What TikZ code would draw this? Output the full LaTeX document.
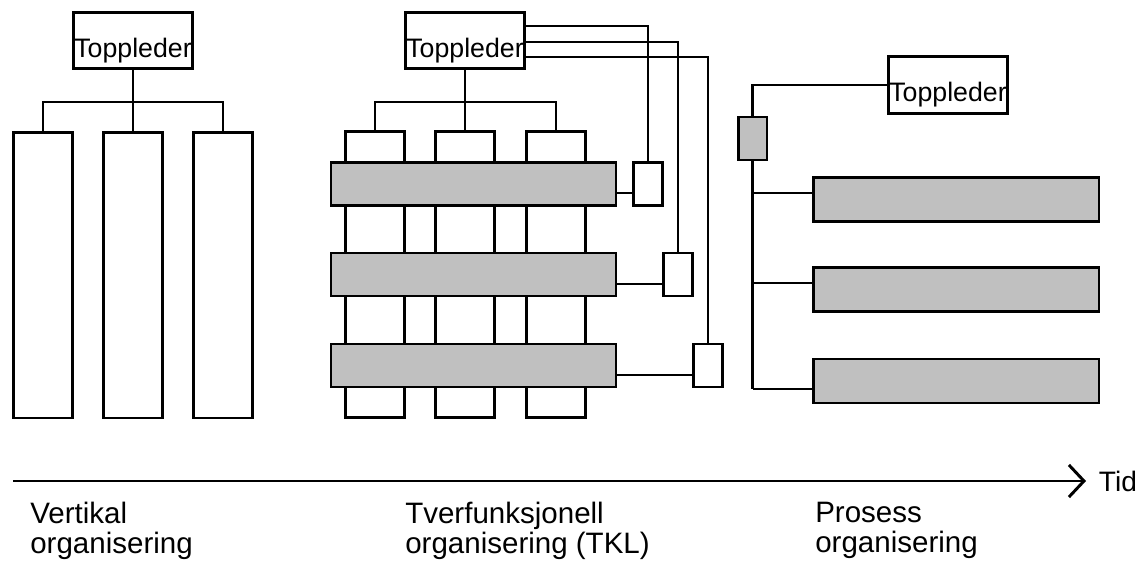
\documentclass[tikz,border=0pt]{standalone}
\usepackage{fontspec}
\setmainfont{Liberation Sans}
\usetikzlibrary{calc,arrows.meta}
\newcommand{\pix}{0.7113pt}
\newcommand{\twolines}[2]{\begin{tabular}{@{}l@{}}#1\\#2\end{tabular}}
\definecolor{bargray}{HTML}{C0C0C0}
\tikzset{
	box/.style = {draw, line width = 2.1pt, inner sep = 0pt},
	boss/.style = {box, fill = white, minimum width = 84.6pt, minimum height = 40.5pt,
		font = \fontsize{19}{20}\selectfont, text height = 23.5pt, text depth = 0pt},
	column/.style = {box, fill = white, minimum width = 41.5pt, minimum height = 203.4pt},
	bar/.style = {box, fill = bargray, minimum height = 30.6pt},
	tab/.style = {box, fill = white, minimum width = 20pt, minimum height = 30.6pt},
	wire/.style = {line width = 1.5pt},
	axis/.style = {line width = 2.1pt, -{Straight Barb[length = 10.7pt, width = 22.8pt, line width = 2.1pt]}},
	caption/.style = {anchor = north west, inner sep = 0pt,
		font = \fontsize{21}{19}\selectfont}
}
\begin{document}
\begin{tikzpicture}[x = \pix, y = -\pix]
	\useasboundingbox (0,0) rectangle (1148,563);
	
	% vertical
	\node[boss] (top1) at (133,40.5) {Toppleder};
	\foreach \i/\x in {1/43,2/133,3/223}
		\node[column] (v\i) at (\x,275) {};
	\coordinate (bus1) at (133,102);
	\draw[wire] (top1) -- (v2);
	\draw[wire] (v1.north) |- (bus1) -| (v3.north);
	
	% cross functional
	\node[boss] (top2) at (465,40.5) {Toppleder};
	\foreach \i/\x in {1/375,2/465,3/556}
		\node[column] (t\i) at (\x,274.5) {};
	\coordinate (bus2) at (465,102);
	\draw[wire] (top2) -- (t2);
	\draw[wire] (t1.north) |- (bus2) -| (t3.north);
	\foreach \i/\y in {1/184,2/274.5,3/365.5}
		\node[bar, minimum width = 202.7pt] (b\i) at (473.5,\y) {};
	\foreach \i/\x/\y in {1/648/184,2/678/274.5,3/708/365.5}
		\node[tab] (s\i) at (\x,\y) {};
	\foreach \i/\y in {1/26,2/42,3/57}
		\draw[wire] (top2.east |- 0,\y) -| (s\i.north);
	\foreach \i in {1,2,3} {
		\coordinate (l\i) at ($(b\i.north east)!0.7!(b\i.south east)$);
		\draw[wire] (l\i) -- (l\i -| s\i.west);
	}
	
	% process
	\node[boss] (top3) at (948,85) {Toppleder};
	\node[bar, minimum width = 20.6pt] (p0) at (752.5,138.5) {};
	\draw[wire] (top3) -| (p0);
	\foreach \i/\y in {1/199.5,2/289.5,3/381}
		\node[bar, minimum width = 203.4pt, minimum height = 31.3pt] (r\i) at (956,\y) {};
	\coordinate (spine) at (752.5,389);
	\draw[wire] (p0.south) -- (spine);
	\foreach \i/\y in {1/193,2/283,3/389}
		\draw[wire] (spine |- 0,\y) -- (r\i.west |- 0,\y);
	
	% time
	\coordinate (t0) at (13,481);
	\node[anchor = west, inner xsep = 9pt, font = \fontsize{20}{22}\selectfont] (tid) at (1086,481) {Tid};
	\draw[axis] (t0) -- (tid.west);
	
	% captions
	\node[caption] (c1) at (30,502) {\twolines{Vertikal}{organisering}};
	\node[caption] (c2) at (405,502) {\twolines{Tverfunksjonell}{organisering (TKL)}};
	\node[caption] (c3) at (815,502) {\twolines{Prosess}{organisering}};
	
\end{tikzpicture}
\end{document}
